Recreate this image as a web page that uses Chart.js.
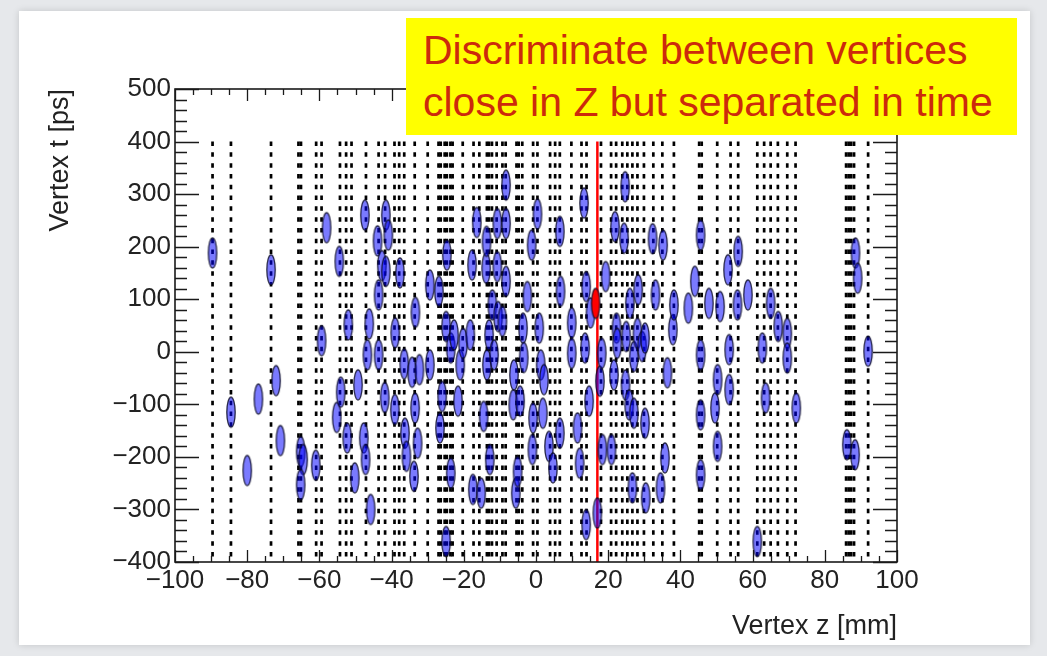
<!DOCTYPE html>
<html>
<head>
<meta charset="utf-8">
<script src="https://cdn.jsdelivr.net/npm/chart.js@4.4.1/dist/chart.umd.min.js"></script>
<style>
  html, body { margin: 0; padding: 0; width: 1047px; height: 656px; overflow: hidden; background: #e6e8eb; }
  #panel { position: absolute; left: 19px; top: 11px; width: 1011px; height: 634px; background: #fff; box-shadow: 0 0 7px rgba(0,0,0,0.15); }
  #wrap { position: absolute; left: 0; top: 0; width: 1047px; height: 656px; }
  #note {
    position: absolute; left: 406px; top: 18px; width: 611px; height: 117px;
    background: #ffff00; box-sizing: border-box; padding: 6px 0 0 17px;
    font-family: 'Liberation Sans', Arial, sans-serif; font-size: 41px; line-height: 52px;
    color: #cc2a0c; white-space: nowrap;
  }
</style>
</head>
<body>
<div id="panel"></div>
<div id="wrap"><canvas id="vtx"></canvas></div>
<div id="note">Discriminate between vertices<br>close in Z but separated in time</div>
<script>
// axis ranges / ticks
const xRange = [-100, 100]
const yRange = [-400, 500]
const xMajor = 20, xMinor = 5
const yMajor = 100, yMinor = 20

// z of the (dashed) track lines, drawn from t=400 to t=-400
const trackSpan = [400, -400]
const trackZ = [
  -89.6, -84.5, -73.4, -65.8, -65.1, -60.9, -59.4, -54.3, -52.6, -51.1, -47.1,
  -43.6, -41.8, -39.2, -37.9, -36.5, -33.6, -30.0, -27.0, -26.4, -25.3, -24.7,
  -23.7, -23.1, -20.3, -17.3, -15.7, -13.6, -13.0, -12.2, -10.9, -9.3, -8.4,
  -5.4, -4.8, -3.8, -0.8, 0.4, 3.9, 5.3, 6.6, 9.8, 12.6, 14.0, 18.0, 20.8, 22.2,
  23.9, 25.3, 26.7, 28.1, 29.9, 32.5, 35.0, 38.2, 45.2, 45.9, 50.2, 53.9, 56.0,
  61.3, 63.2, 65.0, 67.0, 69.6, 71.9, 85.9, 86.6, 87.3, 88.1, 92.0
]

// reconstructed vertices (z in mm, t in ps)
const vertexZ = [
  -89.6, -84.5, -80, -76.9, -73.4, -72, -70.8, -65.2, -64.5, -65.2, -61,
  -59.4, -58, -55.2, -54.5, -54.1, -52.3, -52, -50.2, -49.3, -47.7, -47.4, -47.2,
  -46.7, -46.2, -45.8, -43.9, -43.6, -43.6, -42.7, -41.9, -41.6, -41.6, -40.9,
  -39.1, -39, -37.7, -36.5, -36.3, -35.9, -34.3, -33.8, -33.5, -33.4, -32.8, -32.3,
  -29.4, -29.4, -26.9, -26.6, -26, -24.9, -24.9, -24.7, -23.6, -23.6, -22.7, -21.6,
  -21, -20.2,
  -18.2, -17.7, -17.5, -16.4, -15.2, -14.5, -13.8, -13.7, -13.6, -13, -12.8, -12.1,
  -11.6, -10.7, -10.7, -10.5, -9.3, -8.3, -8.3, -8.3, -6.3, -6.1, -5.6, -5.1, -4.4,
  -3.6, -3.4, -2.4, -1.2, -1, -0.8,
  0.4, 0.9, 1.3, 1.9, 2.2, 3.6, 4.7, 6.6, 6.6, 6.8, 9.9, 9.9, 11.5, 12.1, 13.3,
  13.6, 13.9, 13.9, 14.7, 15.1, 17, 17.7, 18.2, 18.4, 19.3,
  20.9, 21.6, 21.9, 22.3, 22.5, 24.4, 24.7, 24.8, 25, 25.8, 26, 26.7, 27.1, 27.1,
  28.1, 28.3, 29.4, 30.2, 30.2, 30.4, 32.3, 33.1, 34.5, 35.2, 35.7, 36.4, 37.9, 38.2,
  42.2, 44, 45.6, 45.6, 45.6, 45.6, 47.9, 49.6, 50.3, 50.3, 51, 53.2, 53.5, 53.5,
  55.8, 56, 58.7, 61.3, 62.7, 63.6, 65, 67.1, 69.6, 69.6, 72.1, 86.1, 88.4, 88.5,
  89.1, 92
]
const vertexT = [
  188, -115, -226, -90, 156, -55, -169, -190, -205, -253, -216,
  21, 236, -125, 172, -77, -164, 51, -240, -63, -164, 260, -205,
  -6, 53, -300, 211, 108, -6, 164, -87, 260, 153, 222,
  -110, 36, 150, -23, -155, -199, -39, -237, -107, 75, -174, -34,
  127, -25, 115, -145, -85, 48, -361, 184, 7, -231, 32, -94,
  -25, 16,
  32, 165, -262, 246, -269, -123, 159, 210, -25, 32, -205, 89,
  -6, 244, 162, 67, 58, 317, 244, 134, -101, -44, -269, -228, -94,
  45, -11, 105, 203, -186, -126,
  262, 45, -25, -117, -53, -180, -221, 229, -155, 115, 55, -3, -145, -212, 283,
  7, 124, -329, -94, 74, -307, -56, -3, -186, 143,
  -186, -44, 238, 45, 16, 216, 314, -63, 29, -101, 92, -259, -9, -117,
  35, 118, 10, 26, -136, -278, 215, 108, -259, 203, -202, -40, 42, 89,
  83, 134, 222, -6, -120, -234, 92, -107, -53, -180, 86, 156, 4, -72,
  89, 191, 108, -361, 7, -88, 92, 48, 35, -12, -107, -177, -196, 188,
  140, 1
]

// selected vertex and its z
const signalZ = [16.5]
const signalT = [92]
const cutZ = 17

function ellipseSprite(fill) {
  const c = document.createElement('canvas')
  c.width = 12
  c.height = 34
  const g = c.getContext('2d')
  g.beginPath()
  g.ellipse(6, 17, 4.2, 15, 0, 0, Math.PI * 2)
  g.fillStyle = fill
  g.fill()
  g.lineWidth = 1.3
  g.strokeStyle = 'rgba(10,10,40,0.85)'
  g.stroke()
  return c
}

const minus = v => String(v).replace('-', '\u2212')

// ROOT-like frame with inward ticks on all four sides
const frameTicks = {
  id: 'frameTicks',
  afterDraw(chart) {
    const { ctx, chartArea: a, scales: { x, y } } = chart
    ctx.save()
    ctx.strokeStyle = '#1a1a1a'
    ctx.lineWidth = 1.6
    ctx.strokeRect(a.left, a.top, a.right - a.left, a.bottom - a.top)
    ctx.lineWidth = 1.3
    ctx.beginPath()
    for (let v = xRange[0]; v <= xRange[1]; v += xMinor) {
      const px = Math.round(x.getPixelForValue(v)) + 0.5
      const len = v % xMajor === 0 ? 12 : 6
      ctx.moveTo(px, a.bottom); ctx.lineTo(px, a.bottom - len)
      ctx.moveTo(px, a.top); ctx.lineTo(px, a.top + len)
    }
    for (let v = yRange[0]; v <= yRange[1]; v += yMinor) {
      const py = Math.round(y.getPixelForValue(v)) + 0.5
      const len = v % yMajor === 0 ? 24 : 12
      ctx.moveTo(a.left, py); ctx.lineTo(a.left + len, py)
      ctx.moveTo(a.right, py); ctx.lineTo(a.right - len, py)
    }
    ctx.stroke()
    ctx.restore()
  }
}

const tickFont = { family: "'Liberation Sans', Arial, sans-serif", size: 26 }
const titleFont = { family: "'Liberation Sans', Arial, sans-serif", size: 27 }

const trackSets = trackZ.map(z => ({
  data: [{ x: z, y: trackSpan[0] }, { x: z, y: trackSpan[1] }],
  showLine: true,
  borderColor: '#000',
  borderWidth: 2.7,
  borderDash: [4.5, 6.3],
  pointRadius: 0,
  order: 3
}))

new Chart(document.getElementById('vtx'), {
  type: 'scatter',
  data: {
    datasets: [
      {
        data: signalZ.map((z, i) => ({ x: z, y: signalT[i] })),
        pointStyle: ellipseSprite('rgba(255,0,0,1)'),
        pointRadius: 5,
        order: 0
      },
      {
        data: vertexZ.map((z, i) => ({ x: z, y: vertexT[i] })),
        pointStyle: ellipseSprite('rgba(0,0,255,0.52)'),
        pointRadius: 5,
        order: 1
      },
      {
        data: [{ x: cutZ, y: trackSpan[0] }, { x: cutZ, y: trackSpan[1] }],
        showLine: true,
        borderColor: '#ff0000',
        borderWidth: 2.5,
        pointRadius: 0,
        order: 2
      },
      ...trackSets
    ]
  },
  options: {
    responsive: true,
    maintainAspectRatio: false,
    animation: false,
    layout: { padding: { left: 0, top: 89, right: 150, bottom: 0 } },
    plugins: {
      legend: { display: false },
      tooltip: { enabled: false }
    },
    scales: {
      x: {
        type: 'linear',
        min: xRange[0],
        max: xRange[1],
        grid: { display: false, drawTicks: false },
        border: { display: false },
        ticks: {
          stepSize: xMajor, autoSkip: false, maxRotation: 0, padding: 3,
          color: '#222', font: tickFont, callback: minus
        },
        title: {
          display: true, text: 'Vertex z [mm]', align: 'end', color: '#222',
          font: titleFont, padding: { top: 0, bottom: 13 }
        },
        afterFit(scale) { scale.height = 94 }
      },
      y: {
        type: 'linear',
        min: yRange[0],
        max: yRange[1],
        grid: { display: false, drawTicks: false },
        border: { display: false },
        ticks: {
          stepSize: yMajor, autoSkip: false, padding: 4,
          color: '#222', font: tickFont, callback: minus
        },
        title: {
          display: true, text: 'Vertex t [ps]', align: 'end', color: '#222',
          font: titleFont, padding: { top: 44, bottom: 0 }
        },
        afterFit(scale) { scale.width = 175 }
      }
    }
  },
  plugins: [frameTicks]
})
</script>
</body>
</html>
